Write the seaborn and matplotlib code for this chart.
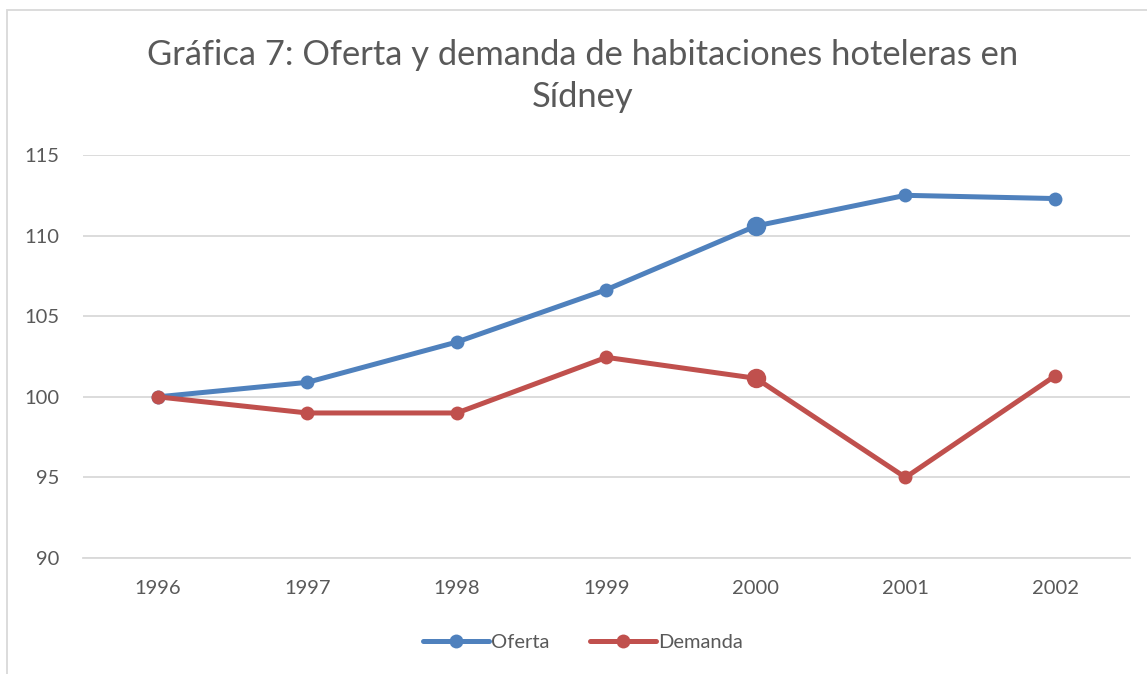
import pandas as pd
import matplotlib.pyplot as plt
import seaborn as sns
from matplotlib.patches import Rectangle

# Data
years = ['1996', '1997', '1998', '1999', '2000', '2001', '2002']
oferta = [100.0, 100.9, 103.4, 106.65, 110.6, 112.5, 112.3]
demanda = [100.0, 99.0, 99.0, 102.45, 101.15, 95.0, 101.3]
series_names = ['Oferta', 'Demanda']
colors = ['#4F81BD', '#C0504D']

df = pd.DataFrame({
    'Año': years * 2,
    'Valor': oferta + demanda,
    'Serie': [series_names[0]] * len(years) + [series_names[1]] * len(years),
})

sns.set_style('white')
plt.rcParams['font.family'] = ['Lato', 'DejaVu Sans']
text_color = '#595959'

fig = plt.figure(figsize=(11.47, 6.74), dpi=100)
ax = fig.add_axes([0.0724, 0.172, 0.9126, 0.598])

sns.lineplot(data=df, x='Año', y='Valor', hue='Serie', palette=colors,
             marker='o', markersize=10, markeredgewidth=0, linewidth=3.6,
             ax=ax, legend=False, zorder=3)

# highlighted (larger) point for 2000
i2000 = years.index('2000')
for vals, c in zip([oferta, demanda], colors):
    ax.plot([i2000], [vals[i2000]], 'o', color=c, markersize=14,
            markeredgewidth=0, zorder=4)

ax.set_xlim(-0.5, len(years) - 0.5)
ax.set_ylim(90, 115)
ax.set_yticks([90, 95, 100, 105, 110, 115])
ax.yaxis.grid(True, color='#D9D9D9', linewidth=1.3)
ax.xaxis.grid(False)
for s in ['top', 'right', 'left']:
    ax.spines[s].set_visible(False)
ax.spines['bottom'].set_color('#D9D9D9')
ax.spines['bottom'].set_linewidth(1.3)
ax.tick_params(axis='both', length=0, labelsize=14.5, labelcolor=text_color)
ax.tick_params(axis='x', pad=16)
ax.tick_params(axis='y', pad=17)
ax.set_xlabel('')
ax.set_ylabel('')

fig.text(0.508, 0.887, 'Gráfica 7: Oferta y demanda de habitaciones hoteleras en\nSídney',
         ha='center', va='center', fontsize=24.8, color=text_color, linespacing=1.4)

handles = [plt.Line2D([], [], color=c, marker='o', markersize=10, linewidth=3.6,
                      markeredgewidth=0) for c in colors]
fig.legend(handles, series_names, loc='center', bbox_to_anchor=(0.508, 0.047),
           ncol=2, frameon=False, fontsize=14.5, labelcolor=text_color,
           handlelength=3.3, handletextpad=0.1, columnspacing=2.0)

# chart border
fig.patches.append(Rectangle((7 / 1147, -0.01), 1.2, 1 - 10 / 674 + 0.01,
                             transform=fig.transFigure, fill=False,
                             edgecolor='#D9D9D9', linewidth=1.3))

fig.savefig('out.png', dpi=100)
